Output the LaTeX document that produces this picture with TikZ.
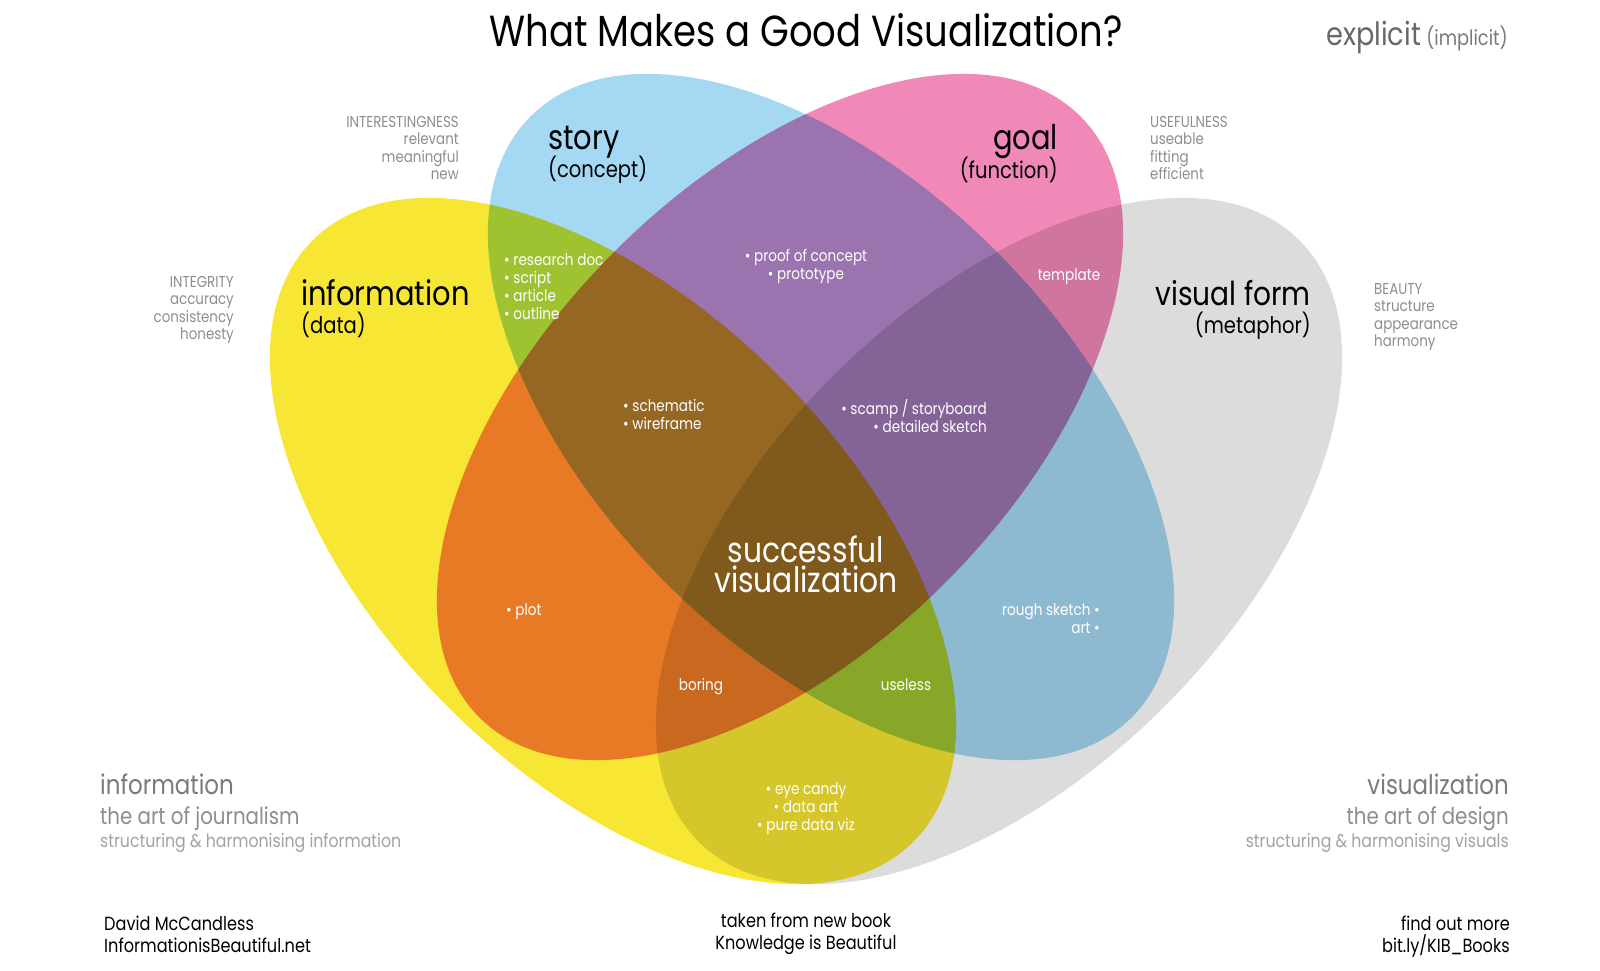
\documentclass[tikz,border=0pt]{standalone}
\usepackage{fontspec}
\setmainfont{Poppins}[FakeStretch=0.85]
\usepackage{xcolor}
\definecolor{infoyellow}{HTML}{F8E634}
\definecolor{storyblue}{HTML}{A4D8F3}
\definecolor{goalpink}{HTML}{F088B8}
\definecolor{formgrey}{HTML}{DCDCDC}
\definecolor{critgrey}{HTML}{8E8E8E}
\definecolor{footgrey}{HTML}{7A7A7A}

\tikzset{
  bigname/.style={font=\fontsize{34}{34}\selectfont, text=black, inner sep=0pt},
  subname/.style={font=\fontsize{23}{23}\selectfont, text=black, inner sep=0pt},
  criteria/.style={font=\fontsize{15.8}{17.5}\selectfont, text=critgrey, inner sep=0pt},
  inside/.style={font=\fontsize{16}{18}\selectfont, text=white, inner sep=0pt},
  credit/.style={font=\fontsize{19}{22}\selectfont, text=black, inner sep=0pt},
}

\begin{document}
\begin{tikzpicture}[x=1pt,y=-1pt]
      \fill[white] (0,0) rectangle (1600,970);
      \useasboundingbox (0,0) rectangle (1600,970);
      % the four petals, multiplied where they overlap
      \foreach \cx/\cy/\ang/\clr in {
        613/541/-45/infoyellow,
        999/541/45/formgrey,
        831/417/-45/storyblue,
        780/417/45/goalpink%
      }{
        \fill[\clr, blend mode=multiply, rotate around={\ang:(\cx,\cy)}]
          (\cx,\cy) ellipse [x radius=425pt, y radius=234pt];
      }
      % title and corner
      \node[font=\fontsize{43.5}{43.5}\selectfont, inner sep=0pt, anchor=base] (title) at (806,46) {What Makes a Good Visualization?};
      \node[inner sep=0pt, anchor=base east] (explicit) at (1508,45)
        {\fontsize{32}{32}\selectfont\color{footgrey!85!black}explicit\,{\fontsize{21}{21}\selectfont\color{footgrey}(implicit)}};
      % petal names
      \node[bigname, anchor=base west] (story) at (548,149) {story};
      \node[subname, anchor=base west] (concept) at (548,177) {(concept)};
      \node[bigname, anchor=base east] (goal) at (1058,149) {goal};
      \node[subname, anchor=base east] (function) at (1058,178) {(function)};
      \node[bigname, anchor=base west] (information) at (301,305) {information};
      \node[subname, anchor=base west] (data) at (301,333) {(data)};
      \node[bigname, anchor=base east, font=\fontsize{33}{33}\selectfont] (visualform) at (1311,305) {visual form};
      \node[subname, anchor=base east] (metaphor) at (1311,333) {(metaphor)};
      % criteria
      \node[criteria, anchor=north east, align=right] (interesting) at (459,116) {INTERESTINGNESS\\relevant\\meaningful\\new};
      \node[criteria, anchor=north west, align=left] (useful) at (1150,116) {USEFULNESS\\useable\\fitting\\efficient};
      \node[criteria, anchor=north east, align=right] (integrity) at (234,276) {INTEGRITY\\accuracy\\consistency\\honesty};
      \node[criteria, anchor=north west, align=left] (beauty) at (1374,283) {BEAUTY\\structure\\appearance\\harmony};
      % overlaps
      \node[inside, anchor=north west, align=left] (research) at (504,253) {• research doc\\• script\\• article\\• outline};
      \node[inside, anchor=north, align=center] (proof) at (806,249) {• proof of concept\\• prototype};
      \node[inside, anchor=base] (template) at (1069,280) {template};
      \node[inside, anchor=north west, align=left] (schematic) at (623,399) {• schematic\\• wireframe};
      \node[inside, anchor=north east, align=right] (scamp) at (987,399) {• scamp / storyboard\\• detailed sketch};
      \node[font=\fontsize{35}{30}\selectfont, text=white, inner sep=0pt, anchor=north, align=center] (success) at (806,536) {successful\\visualization};
      \node[inside, anchor=base west] (plot) at (506,615) {• plot};
      \node[inside, anchor=north east, align=right] (rough) at (1100,603) {rough sketch •\\art •};
      \node[inside, anchor=base] (boring) at (701,690) {boring};
      \node[inside, anchor=base] (useless) at (906,690) {useless};
      \node[inside, anchor=north, align=center] (candy) at (806,782) {• eye candy\\• data art\\• pure data viz};
      % bottom captions
      \node[font=\fontsize{27}{27}\selectfont, text=footgrey, inner sep=0pt, anchor=base west] (infoart) at (100,794) {information};
      \node[font=\fontsize{23.3}{23.3}\selectfont, text=footgrey!85, inner sep=0pt, anchor=base west] (journalism) at (100,824) {the art of journalism};
      \node[font=\fontsize{18.5}{18.5}\selectfont, text=footgrey!70, inner sep=0pt, anchor=base west] (structinfo) at (100,847) {structuring \& harmonising information};
      \node[font=\fontsize{27}{27}\selectfont, text=footgrey, inner sep=0pt, anchor=base east] (vizart) at (1509,794) {visualization};
      \node[font=\fontsize{23.3}{23.3}\selectfont, text=footgrey!85, inner sep=0pt, anchor=base east] (design) at (1509,824) {the art of design};
      \node[font=\fontsize{18.5}{18.5}\selectfont, text=footgrey!70, inner sep=0pt, anchor=base east] (structviz) at (1509,847) {structuring \& harmonising visuals};
      \node[credit, anchor=north west, align=left] (author) at (104,916) {David McCandless\\InformationisBeautiful.net};
      \node[credit, anchor=north, align=center] (book) at (806,913) {taken from new book\\Knowledge is Beautiful};
      \node[credit, anchor=north east, align=right] (more) at (1510,916) {find out more\\bit.ly/KIB\_Books};
\end{tikzpicture}
\end{document}
